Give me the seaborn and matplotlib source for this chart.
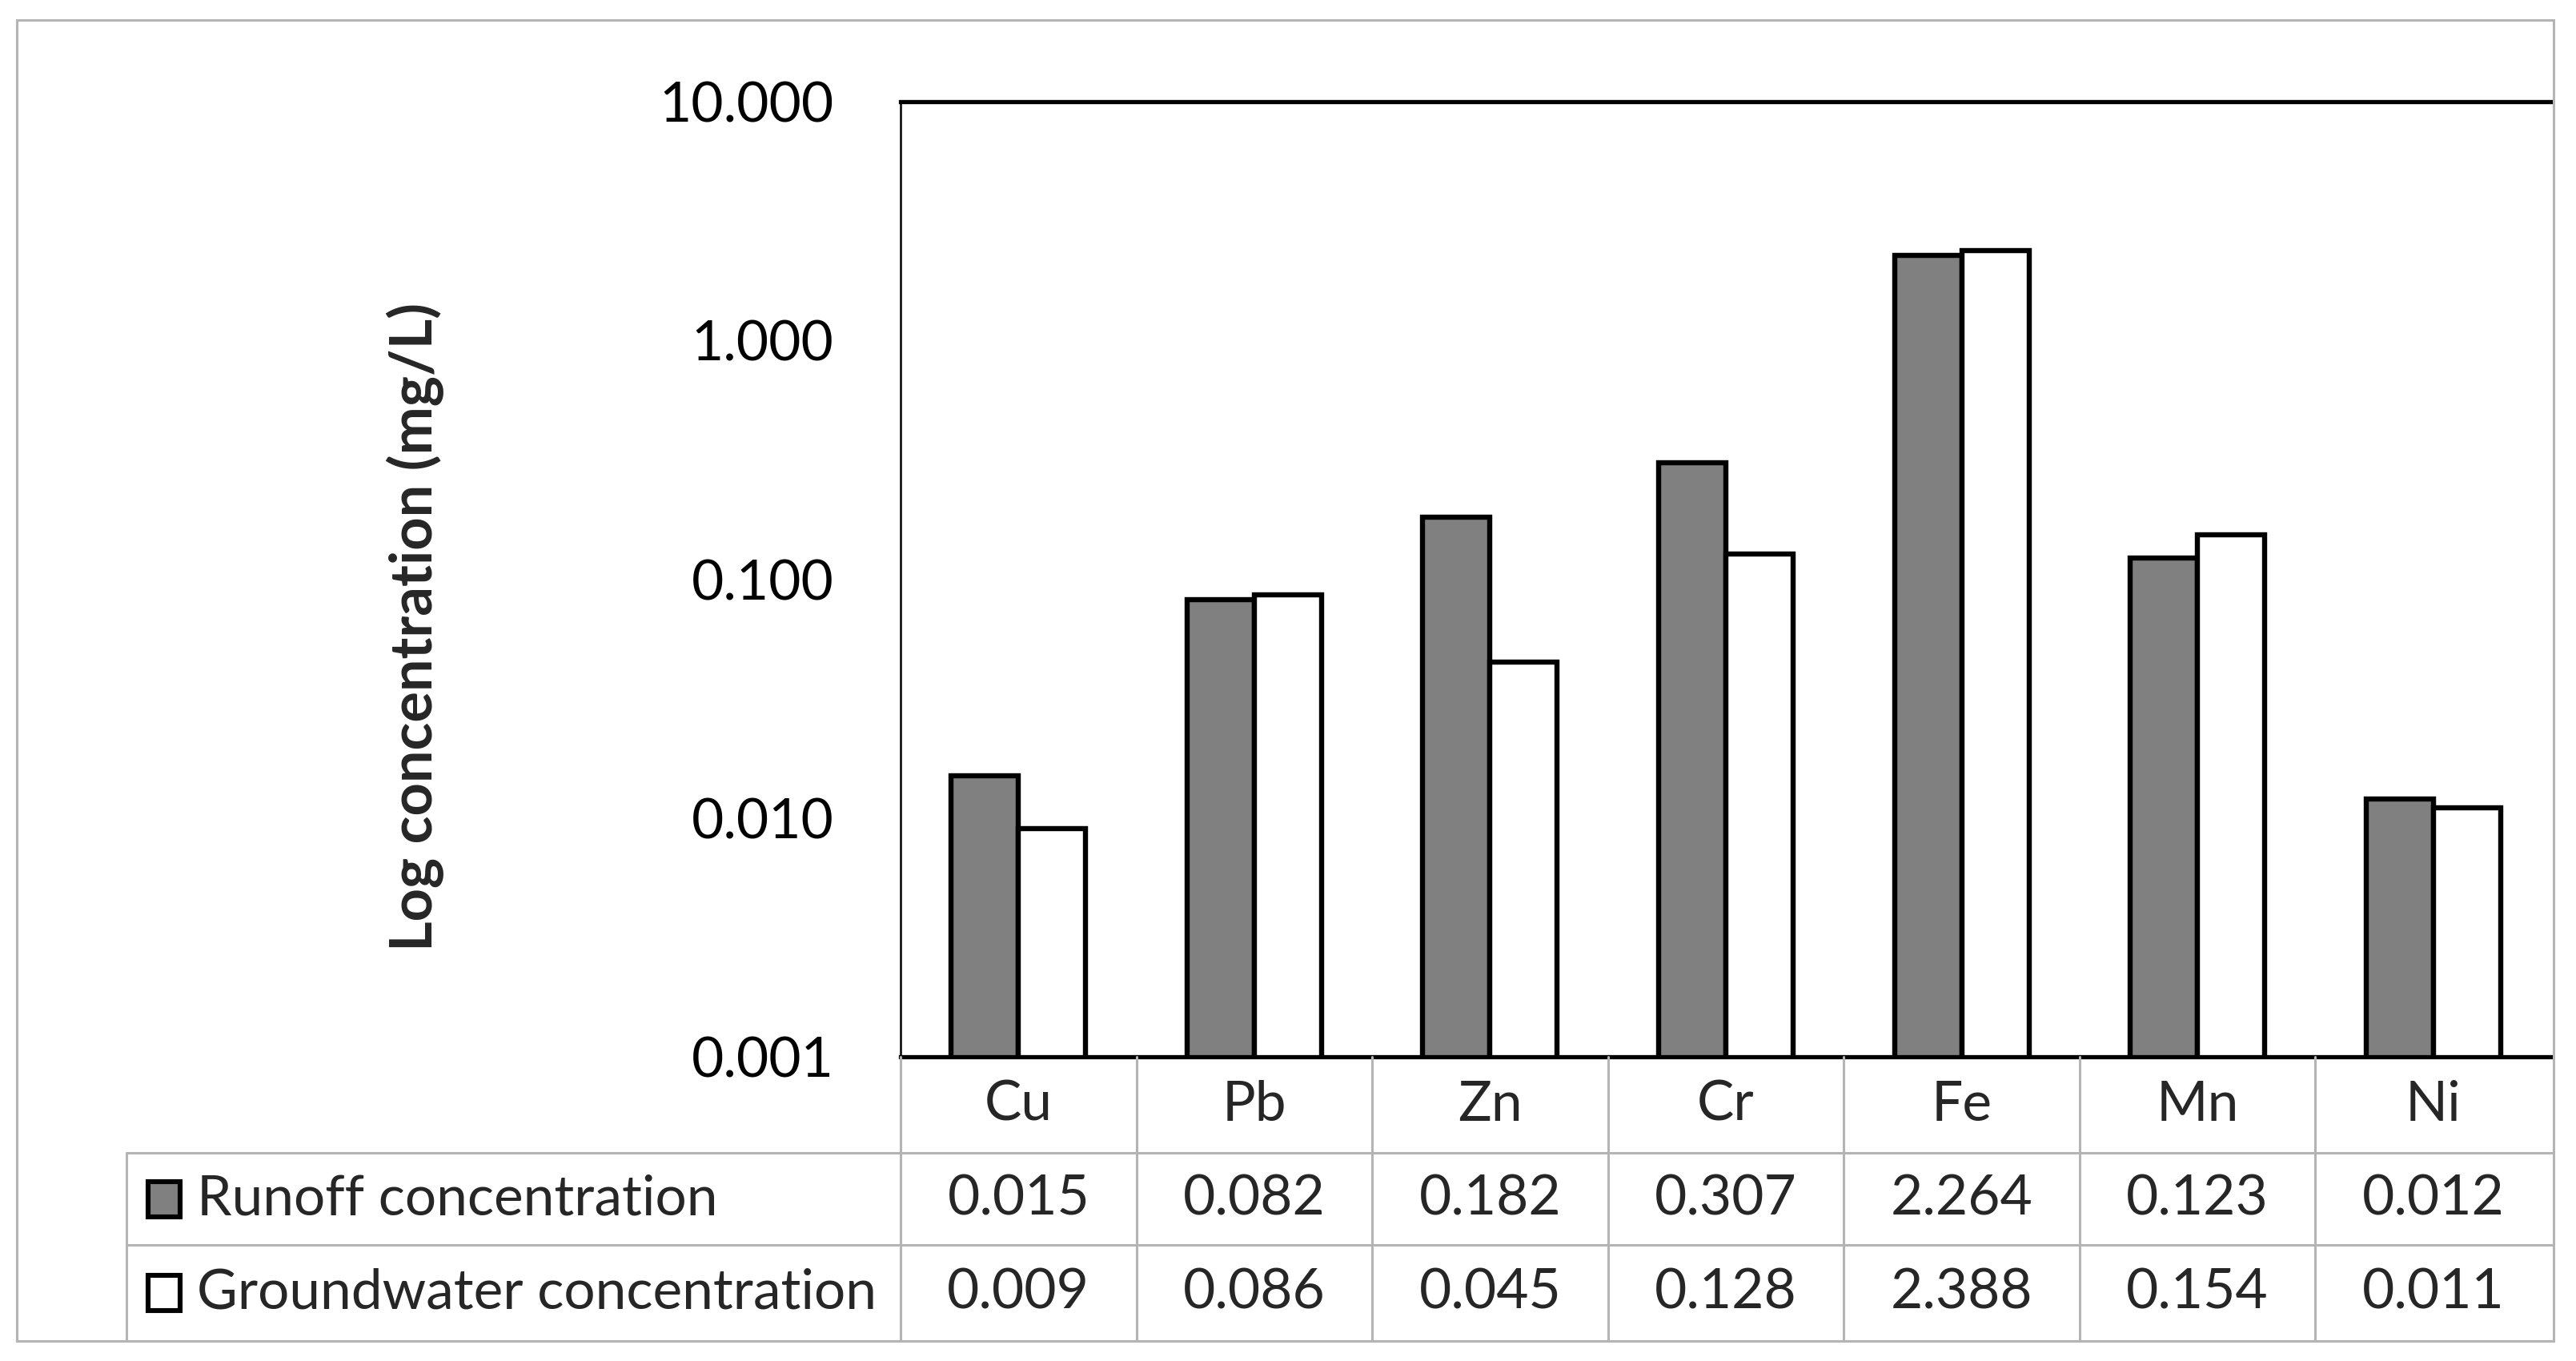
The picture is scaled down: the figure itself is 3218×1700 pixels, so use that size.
import pandas as pd
import matplotlib.pyplot as plt
import matplotlib.transforms as mtransforms
from matplotlib.lines import Line2D
from matplotlib.patches import Rectangle
import seaborn as sns
import numpy as np

elements = ["Cu", "Pb", "Zn", "Cr", "Fe", "Mn", "Ni"]
runoff = [0.015, 0.082, 0.182, 0.307, 2.264, 0.123, 0.012]
groundwater = [0.009, 0.086, 0.045, 0.128, 2.388, 0.154, 0.011]
series_names = ["Runoff concentration", "Groundwater concentration"]
series_colors = ["#808080", "#ffffff"]
y_ticks = [0.001, 0.01, 0.1, 1, 10]

W, H = 3218, 1700
FS = 25

sns.set_style("white")
plt.rcParams["font.family"] = ["Lato", "DejaVu Sans"]

df = pd.DataFrame({
    "element": elements * 2,
    "series": [series_names[0]] * len(elements) + [series_names[1]] * len(elements),
    "value": runoff + groundwater,
})

fig = plt.figure(figsize=(W / 200, H / 200), dpi=200)
fig.patch.set_facecolor("white")

# plot area in pixel coords
left, right, top, bottom = 1125, 3187, 127, 1320
ax = fig.add_axes([left / W, 1 - bottom / H, (right - left) / W, (bottom - top) / H])

sns.barplot(data=df, x="element", y="value", hue="series", order=elements,
            hue_order=series_names, palette=dict(zip(series_names, series_colors)),
            edgecolor="black", linewidth=2.3, width=0.57, errorbar=None,
            legend=False, ax=ax, zorder=3)

ax.set_yscale("log")
ax.set_ylim(0.001, 10)
ax.set_xlim(-0.5, len(elements) - 0.5)
ax.set_yticks(y_ticks)
ax.set_yticklabels(["{:.3f}".format(v) for v in y_ticks])
ax.yaxis.set_minor_locator(plt.NullLocator())
ax.tick_params(axis="y", length=0, pad=30, labelsize=FS, labelcolor="black")
ax.tick_params(axis="x", length=0, labelbottom=False)
ax.set_xlabel("")
ax.set_ylabel("")

ax.spines["right"].set_visible(False)
ax.spines["left"].set_linewidth(0.9)
ax.spines["top"].set_linewidth(1.9)
ax.spines["bottom"].set_linewidth(1.9)
for s in ["left", "top", "bottom"]:
    ax.spines[s].set_color("black")
    ax.spines[s].set_zorder(5)

fig.text(519 / W, 1 - 783 / H, "Log concentration (mg/L)", rotation=90,
         ha="center", va="center", fontsize=FS + 1, fontweight="bold")

# data table under the axis
grey = "#b4b4b4"
trans = mtransforms.blended_transform_factory(ax.transData, fig.transFigure)
fy = lambda p: 1 - p / H
fx = lambda p: p / W

row_top = [1320, 1440, 1555]
row_bot = [1440, 1555, 1675]
table_left = 158
outer_right = 3190

for yy in [1440, 1555, 1675]:
    fig.add_artist(Line2D([fx(table_left), fx(outer_right)], [fy(yy), fy(yy)],
                          color=grey, lw=1.1))
fig.add_artist(Line2D([fx(table_left), fx(table_left)], [fy(1440), fy(1675)],
                      color=grey, lw=1.1))
for i in range(len(elements)):
    xb = i - 0.5
    fig.add_artist(Line2D([xb, xb], [fy(1320), fy(1675)], color=grey, lw=1.1,
                          transform=trans))

for i, el in enumerate(elements):
    fig.text(i, fy((row_top[0] + row_bot[0]) / 2), el, transform=trans,
             ha="center", va="center", fontsize=FS)
    fig.text(i, fy((row_top[1] + row_bot[1]) / 2), "{:.3f}".format(runoff[i]),
             transform=trans, ha="center", va="center", fontsize=FS)
    fig.text(i, fy((row_top[2] + row_bot[2]) / 2), "{:.3f}".format(groundwater[i]),
             transform=trans, ha="center", va="center", fontsize=FS)

for k, name in enumerate(series_names):
    yc = (row_top[k + 1] + row_bot[k + 1]) / 2
    fig.add_artist(Rectangle((fx(185), fy(yc + 22)), 40 / W, 44 / H,
                             facecolor=series_colors[k], edgecolor="black", lw=2.2))
    fig.text(fx(246), fy(yc), name, ha="left", va="center", fontsize=FS)

# outer chart border
fig.add_artist(Rectangle((fx(21), fy(1675)), (outer_right - 21) / W, (1675 - 25) / H,
                         facecolor="none", edgecolor=grey, lw=1.1))

fig.savefig("out.png", dpi=200, facecolor="white")
